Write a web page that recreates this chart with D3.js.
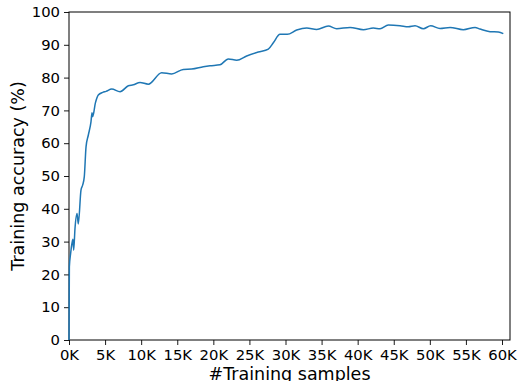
<!DOCTYPE html>
<html>
<head>
<meta charset="utf-8">
<script src="https://cdn.jsdelivr.net/npm/d3@7"></script>
<style>
  body { margin: 0; background: #fff; }
  text { font-family: "DejaVu Sans", sans-serif; fill: #000; }
</style>
</head>
<body>
<div id="chart"></div>
<script>
// training samples seen vs. accuracy (%)
let samples = [0, 50, 230, 415, 550, 650, 830, 1110, 1290, 1660, 1900, 2120, 2360, 2680, 3050, 3190, 3280, 3650, 4060, 4670, 5130,
  5920, 7070, 8220, 8910, 9840, 10990, 12840, 14230, 15840, 17000, 18610, 19540, 20920, 22080, 23240, 24620, 26230,
  27620, 28310, 29240, 30250, 31550, 32940, 34320, 35930, 37090, 38940, 40790, 42170, 43100, 44250, 45870, 47020,
  47950, 49100, 50110, 51410, 52800, 54640, 56260, 56950, 58340, 59490, 60180];
let accuracy = [0, 22.3, 26.5, 29.5, 30.7, 27.4, 34, 38.6, 35.4, 45.7, 47.3, 49.8, 58.9, 62.5, 66.6, 69.3, 68.1, 72.2, 74.7, 75.5, 75.8,
  76.5, 75.7, 77.5, 77.8, 78.5, 78.0, 81.5, 81.1, 82.5, 82.6, 83.3, 83.6, 83.9, 85.7, 85.3, 86.6, 87.8,
  88.7, 90.6, 93.2, 93.2, 94.5, 95.1, 94.7, 95.7, 94.9, 95.3, 94.6, 95.1, 94.9, 96.0, 95.8, 95.5,
  95.8, 94.9, 95.8, 95.0, 95.3, 94.6, 95.3, 94.8, 94.0, 93.9, 93.4];
let xTicks = d3.range(0, 60001, 5000);
let yTicks = d3.range(0, 101, 10);

const width = 519, height = 381;
const margin = {left: 69, right: 9, top: 12, bottom: 41};

const svg = d3.select("#chart").append("svg")
  .attr("width", width).attr("height", height);

const x = d3.scaleLinear().domain([0, 61108]).range([margin.left, width - margin.right]);
const y = d3.scaleLinear().domain([0, 100]).range([height - margin.bottom, margin.top]);

const xAxis = svg.append("g")
  .attr("transform", `translate(0,${height - margin.bottom})`)
  .call(d3.axisBottom(x).tickValues(xTicks).tickFormat(d => (d / 1000) + "K").tickSize(5).tickPadding(4));
const yAxis = svg.append("g")
  .attr("transform", `translate(${margin.left},0)`)
  .call(d3.axisLeft(y).tickValues(yTicks).tickSize(5).tickPadding(4));

[xAxis, yAxis].forEach(g => {
  g.select(".domain").remove();
  g.selectAll("line").attr("stroke", "#000").attr("stroke-width", 0.9);
  g.selectAll("text").style("font-size", "14.8px").style("font-family", "DejaVu Sans");
});

// frame
svg.append("rect")
  .attr("x", margin.left).attr("y", margin.top)
  .attr("width", width - margin.left - margin.right)
  .attr("height", height - margin.top - margin.bottom)
  .attr("fill", "none").attr("stroke", "#000").attr("stroke-width", 1);

const line = d3.line()
  .x((d, i) => x(samples[i]))
  .y(d => y(d))
  .curve(d3.curveMonotoneX);

svg.append("path")
  .datum(accuracy)
  .attr("d", line)
  .attr("fill", "none")
  .attr("stroke", "#1f77b4")
  .attr("stroke-width", 1.5);

svg.append("text")
  .attr("x", (margin.left + width - margin.right) / 2)
  .attr("y", 380)
  .attr("text-anchor", "middle")
  .style("font-size", "17.5px")
  .text("#Training samples");

svg.append("text")
  .attr("transform", `translate(24,${(margin.top + height - margin.bottom) / 2}) rotate(-90)`)
  .attr("text-anchor", "middle")
  .style("font-size", "17.5px")
  .text("Training accuracy (%)");
</script>
</body>
</html>
